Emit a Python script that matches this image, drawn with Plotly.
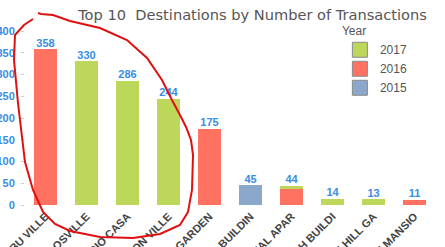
import plotly.graph_objects as go

categories = ["ABU VILLE", "LAGOSVILLE", "RIO CASA", "MOON VILLE", "PALM GARDEN",
              "NAIA BUILDIN", "RESIDENTIAL APAR", "NOH BUILDI", "WHITE HILL GA", "GOLDEN MANSIO"]
years = ["2015", "2016", "2017"]
v2015 = [0, 0, 0, 0, 0, 45, 0, 0, 0, 0]
v2016 = [358, 0, 0, 0, 175, 0, 37, 0, 0, 11]
v2017 = [0, 330, 286, 244, 0, 0, 7, 14, 13, 0]
totals = [a + b + c for a, b, c in zip(v2015, v2016, v2017)]

colors = {"2015": "#8ba7c9", "2016": "#ff7262", "2017": "#bdd75b"}
W, H = 445, 247
L, R, T, B = 25, 10, 31, 42

fig = go.Figure()
for name, vals in zip(years, [v2015, v2016, v2017]):
    fig.add_trace(go.Bar(x=categories, y=vals, name=name, marker_color=colors[name],
                         marker_line_width=0, width=0.56, showlegend=False))
# legend entries (square swatches)
for name in years:
    fig.add_trace(go.Scatter(x=[None], y=[None], mode="markers", name=name,
                             marker=dict(symbol="square", size=15, color=colors[name],
                                         line=dict(color="#8a8a8a", width=1))))
fig.add_trace(go.Scatter(x=categories, y=totals, mode="text", text=[str(t) for t in totals],
                         textposition="top center", showlegend=False, cliponaxis=False,
                         textfont=dict(family="Liberation Sans", size=11, color="#3a8de0",
                                       weight="bold")))

# hand-drawn red loop (decoration, in pixel positions of the picture)
pts = [(38, 13), (41, 14), (53, 15), (70, 21), (100, 28), (127, 40), (147, 58), (162, 80),
       (172, 100), (180, 115), (186, 127), (191, 140), (193, 155), (192, 190), (188, 212),
       (180, 225), (160, 234), (133, 238), (100, 237), (70, 231), (55, 224), (43, 212),
       (33, 190), (25, 162), (18, 103), (14, 60), (15, 35), (24, 25), (33, 19)]
plot_w, plot_h = W - L - R, H - T - B
def to_paper(p):
    return ((p[0] - L) / plot_w, (H - B - p[1]) / plot_h)
pp = [to_paper(p) for p in pts]
path = "M " + " L ".join(f"{x:.4f},{y:.4f}" for x, y in pp)
fig.add_shape(type="path", path=path, xref="paper", yref="paper",
              line=dict(color="#e01010", width=2), layer="above")

fig.update_layout(
    width=W, height=H, margin=dict(l=L, r=R, t=T, b=B, autoexpand=False),
    barmode="stack", bargap=0.44,
    plot_bgcolor="white", paper_bgcolor="white",
    title=dict(text="Top 10  Destinations by Number of Transactions", x=0.555, xanchor="center",
               y=0.939, yanchor="middle", xref="paper",
               font=dict(family="DejaVu Sans", size=14.6, color="#555555")),
    legend=dict(title=dict(text="Year", font=dict(size=12, color="#555555")),
                x=0.768, y=1.065, xanchor="left", yanchor="top", traceorder="reversed",
                font=dict(family="Liberation Sans", size=12, color="#555555"),
                bgcolor="rgba(0,0,0,0)", borderwidth=0,
                tracegroupgap=0, itemwidth=30),
    showlegend=True,
)
fig.update_xaxes(tickangle=-45, automargin=False, showgrid=False, showline=False,
                 ticklabelstandoff=2,
                 tickfont=dict(family="Liberation Sans", size=11, color="#444444", weight="bold"),
                 range=[-0.5, 9.5])
fig.update_yaxes(range=[0, 400], tickvals=list(range(0, 401, 50)), automargin=False,
                 showgrid=False, showline=False, zeroline=False,
                 ticks="outside", ticklen=3, tickcolor="#cccccc", ticklabelstandoff=4,
                 tickfont=dict(family="Liberation Sans", size=11, color="#3a8de0", weight="bold"))

fig.write_html("out.html")
